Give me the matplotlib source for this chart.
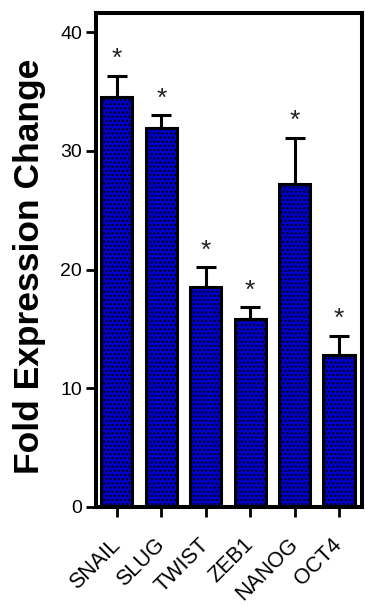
import matplotlib
matplotlib.use('Agg')
import matplotlib.pyplot as plt

genes = ['SNAIL', 'SLUG', 'TWIST', 'ZEB1', 'NANOG', 'OCT4']
fold_change = [34.5, 31.9, 18.5, 15.8, 27.2, 12.8]
error_upper = [1.8, 1.1, 1.7, 1.0, 3.9, 1.6]
significance = ['*', '*', '*', '*', '*', '*']
yticks = [0, 10, 20, 30, 40]

plt.rcParams['font.family'] = ['Liberation Sans', 'DejaVu Sans']
plt.rcParams['hatch.linewidth'] = 1.0
plt.rcParams['hatch.color'] = 'black'

fig = plt.figure(figsize=(3.65, 6.06), dpi=100)
ax = fig.add_axes([0.263, 0.1634, 0.729, 0.8151])

x = list(range(len(genes)))
ax.errorbar(x, fold_change, yerr=[[0] * len(genes), error_upper], fmt='none',
            ecolor='black', elinewidth=2.2, capsize=7, capthick=2.2, zorder=1)
ax.bar(x, fold_change, width=0.7, color='#0000cc', edgecolor='black',
       linewidth=2.2, hatch='....', zorder=2)

for i, (v, e, s) in enumerate(zip(fold_change, error_upper, significance)):
    ax.annotate(s, xy=(i, v + e), xytext=(0, 7), textcoords='offset points',
                ha='center', va='baseline', fontsize=19, color='#222222')

ax.set_xlim(-0.47, 5.52)
ax.set_ylim(0, 41.6)
ax.set_yticks(yticks)
ax.set_xticks(x)
ax.set_xticklabels(genes, rotation=45, ha='right', va='center',
                   rotation_mode='anchor', fontsize=15.5)
ax.tick_params(axis='y', direction='out', length=7, width=2, labelsize=14, pad=3)
ax.tick_params(axis='x', direction='out', length=7, width=2, pad=18)
for sp in ax.spines.values():
    sp.set_linewidth(2.9)

fig.text(30 / 365, 1 - 266.5 / 606, 'Fold Expression Change', rotation=90,
         ha='center', va='center', fontsize=25.5, fontweight='bold')

fig.savefig('out.png', dpi=100)
